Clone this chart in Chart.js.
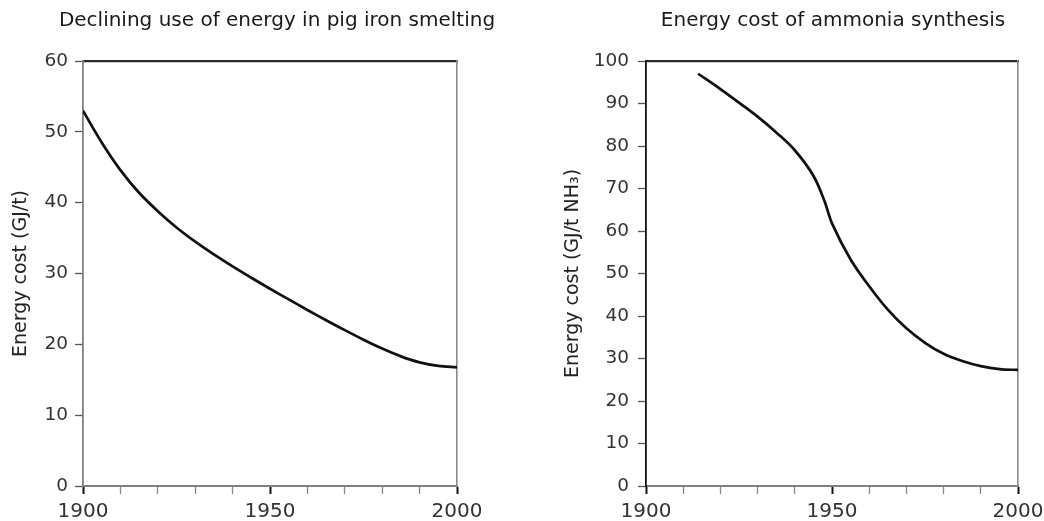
<!DOCTYPE html>
<html>
<head>
<meta charset="utf-8">
<script src="https://cdn.jsdelivr.net/npm/chart.js@4"></script>
<style>
  html, body { margin: 0; padding: 0; background: #fff; overflow: hidden; width: 1044px; height: 521px; }
  .box { position: absolute; top: 0; height: 521px; }
  #boxL { left: 0; width: 554px; }
  #boxR { left: 560px; width: 546px; }
</style>
</head>
<body>
<div class="box" id="boxL"><canvas id="cL"></canvas></div>
<div class="box" id="boxR"><canvas id="cR"></canvas></div>
<script>
// ---- data ----
const ironTitle = 'Declining use of energy in pig iron smelting';
const ironAxisTitle = 'Energy cost (GJ/t)';
const ironYears = [1900,1905,1910,1915,1920,1925,1930,1935,1940,1945,1950,1955,1960,1965,1970,1975,1980,1985,1990,1995,2000];
const ironEnergy = [53,48.5,44.6,41.4,38.8,36.5,34.5,32.7,31.0,29.4,27.85,26.35,24.85,23.4,22.0,20.65,19.4,18.3,17.45,16.95,16.75];

const ammoniaTitle = 'Energy cost of ammonia synthesis';
const ammoniaAxisTitle = 'Energy cost (GJ/t NH\u2083)';
const ammoniaYears = [1914,1920,1925,1930,1935,1940,1945,1948,1950,1955,1960,1965,1970,1975,1980,1985,1990,1995,2000];
const ammoniaEnergy = [97,93.4,90.2,86.9,83.2,79.0,73.0,67.0,61.8,53.3,47.0,41.5,37.1,33.7,31.1,29.4,28.2,27.5,27.3];

const xTickLabels = [1900, 1950, 2000];
const xRange = [1900, 2000];
const ironYRange = [0, 60];
const ammoniaYRange = [0, 100];

Chart.defaults.font.family = "'DejaVu Sans', sans-serif";
Chart.defaults.color = '#222';
Chart.defaults.animation = false;

function makeChart(canvasId, title, axisTitle, years, values, yRange, dims) {
  const pts = years.map((y, i) => ({ x: y, y: values[i] }));
  return new Chart(document.getElementById(canvasId), {
    type: 'line',
    data: { datasets: [{
      data: pts,
      borderColor: '#111',
      borderWidth: 2.7,
      pointRadius: 0,
      fill: false,
      tension: 0.35
    }]},
    options: {
      responsive: true,
      maintainAspectRatio: false,
      layout: { padding: 0 },
      plugins: {
        legend: { display: false },
        tooltip: { enabled: false },
        title: {
          display: true, text: title, color: '#1a1a1a',
          font: { size: 20, weight: 'normal', lineHeight: 1.2 },
          padding: { top: 9, bottom: 28 }
        }
      },
      scales: {
        x: {
          type: 'linear', position: 'bottom', min: xRange[0], max: xRange[1],
          afterFit: s => { s.height = 35; },
          border: { display: true, color: '#808080', width: 2 },
          grid: { display: true, drawOnChartArea: false, drawTicks: true, tickLength: 8,
                  tickColor: c => (xTickLabels.includes(c.tick && c.tick.value) ? '#111' : '#888'),
                  tickWidth: c => (xTickLabels.includes(c.tick && c.tick.value) ? 2 : 1.3) },
          ticks: { stepSize: 10, autoSkip: false, maxRotation: 0, padding: 6, color: '#333',
                   font: { size: 20 },
                   callback: v => (xTickLabels.includes(v) ? String(v) : '') }
        },
        x2: {
          type: 'linear', position: 'top', min: 0, max: 1,
          afterFit: s => { s.height = 0; },
          border: { display: true, color: '#2a2a2a', width: 2.2 },
          grid: { display: true, drawOnChartArea: false, drawTicks: false },
          ticks: { display: false }
        },
        y: {
          type: 'linear', position: 'left', min: yRange[0], max: yRange[1],
          afterFit: s => { s.width = dims.yWidth; },
          border: { display: true, color: dims.yAxisColor, width: 1.8 },
          grid: { display: true, drawOnChartArea: false, drawTicks: true, tickLength: 8,
                  tickColor: '#555', tickWidth: 1.3 },
          ticks: { stepSize: 10, padding: dims.tickPad, color: '#333', font: { size: 18.5 } },
          title: { display: true, text: axisTitle, color: '#222', font: { size: 19 },
                   padding: { top: dims.titlePad, bottom: 0 } }
        },
        y2: {
          type: 'linear', position: 'right', min: 0, max: 1,
          afterFit: s => { s.width = dims.rightWidth; },
          border: { display: true, color: '#8a8a8a', width: 1.6 },
          grid: { display: true, drawOnChartArea: false, drawTicks: false },
          ticks: { display: false }
        }
      }
    }
  });
}

makeChart('cL', ironTitle, ironAxisTitle, ironYears, ironEnergy, ironYRange,
  { yWidth: 83, rightWidth: 97, tickPad: 7, titlePad: 10, yAxisColor: '#808080' });
makeChart('cR', ammoniaTitle, ammoniaAxisTitle, ammoniaYears, ammoniaEnergy, ammoniaYRange,
  { yWidth: 86, rightWidth: 88, tickPad: 9, titlePad: 2, yAxisColor: '#111' });
</script>
</body>
</html>
